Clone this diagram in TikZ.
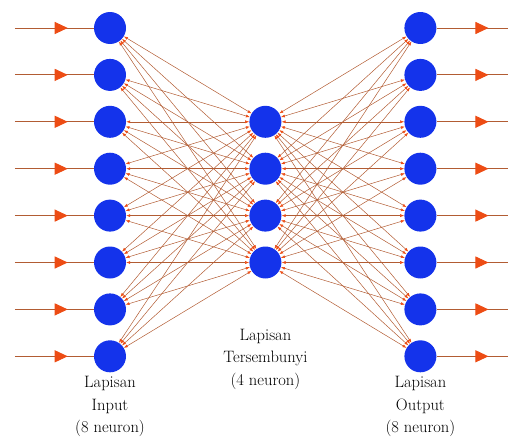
\documentclass[tikz,border=0pt]{standalone}
\usepackage{tikz}
\usetikzlibrary{positioning,arrows.meta,decorations.markings}
\definecolor{neuronblue}{rgb}{0.08,0.2,0.92}
\definecolor{linkbrown}{rgb}{0.7,0.36,0.2}
\definecolor{tipred}{rgb}{0.93,0.3,0.08}

\begin{document}
\begin{tikzpicture}[
      x=1pt, y=1pt,
      node distance=14.5pt,
      neuron/.style={circle, fill=neuronblue, minimum size=32pt, inner sep=0pt},
      link/.style={draw=linkbrown, line width=0.5pt, {Latex[length=4pt,width=3pt,color=tipred]}-{Latex[length=4pt,width=3pt,color=tipred]}},
      feed/.style={draw=linkbrown, line width=1pt, postaction={decorate},
        decoration={markings, mark=at position #1 with {\arrow[tipred]{Triangle[length=13pt,width=12pt]}}}},
      feed/.default=0.67,
      caption/.style={align=center, inner sep=1pt, font=\fontsize{16.5}{22.5}\selectfont}
    ]
      \useasboundingbox (0,0) rectangle (508,-439);

      % lapisan input
      \node[neuron] (in0) at (110,-28) {};
      \foreach \i [count=\j from 1] in {0,...,6}
        \node[neuron, below=of in\i] (in\j) {};

      % lapisan tersembunyi
      \node[neuron, right=123pt of in2] (hid0) {};
      \foreach \i [count=\j from 1] in {0,...,2}
        \node[neuron, below=of hid\i] (hid\j) {};

      % lapisan output
      \node[neuron, right=278pt of in0] (out0) {};
      \foreach \i [count=\j from 1] in {0,...,6}
        \node[neuron, below=of out\i] (out\j) {};

      % masukan dan keluaran
      \foreach \i in {0,...,7} {
        \coordinate[left=79pt of in\i] (src\i);
        \coordinate[right=72pt of out\i] (dst\i);
        \draw[feed] (src\i) -- (in\i);
        \draw[feed=0.72] (out\i) -- (dst\i);
      }

      % bobot
      \foreach \i in {0,...,7}
        \foreach \h in {0,...,3} {
          \draw[link] (in\i) -- (hid\h);
          \draw[link] (hid\h) -- (out\i);
        }

      \node[caption, below=3pt of in7] (capin) {Lapisan\\Input\\(8 neuron)};
      \node[caption, below=49pt of hid3] (caphid) {Lapisan\\Tersembunyi\\(4 neuron)};
      \node[caption, below=3pt of out7] (capout) {Lapisan\\Output\\(8 neuron)};
    \end{tikzpicture}
\end{document}
